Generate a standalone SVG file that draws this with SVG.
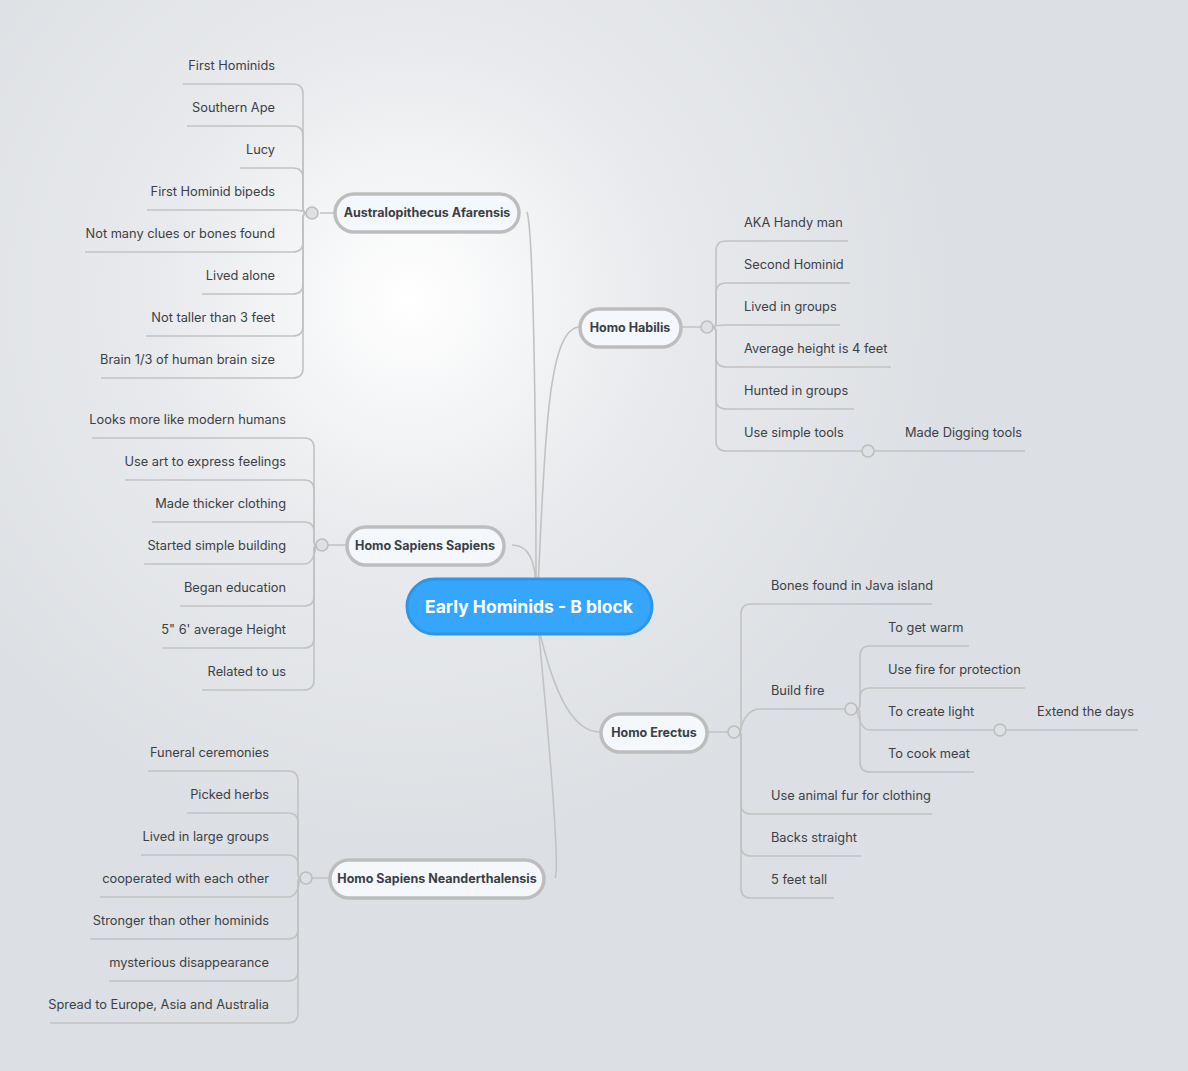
<svg xmlns="http://www.w3.org/2000/svg" width="1188" height="1071" viewBox="0 0 1188 1071">
<defs>
<radialGradient id="bg" cx="410" cy="300" r="560" gradientUnits="userSpaceOnUse">
<stop offset="0" stop-color="#ffffff"/><stop offset="0.45" stop-color="#e8eaed"/><stop offset="1" stop-color="#dcdfe3"/>
</radialGradient>
<style>
.c{fill:none;stroke:#c2c2c2;stroke-width:1.6}
.t{font-family:Inter,"Liberation Sans",sans-serif;font-size:12.8px;fill:#3b3f45}
.r{text-anchor:end}
.n rect{fill:#f4f8fd;stroke:#bdbdbd;stroke-width:3.5}
.n text{font-family:Inter,"Liberation Sans",sans-serif;font-size:12.5px;font-weight:bold;fill:#3b3f45;text-anchor:middle}
.h{fill:#dde0e4;stroke:#bdbdbd;stroke-width:1.6}
</style>
</defs>
<rect width="1188" height="1071" fill="url(#bg)"/>
<g id="connectors">
<path class="c" d="M536,590 C536,400 533,230 527,212"/>
<path class="c" d="M538,590 C545,420 550,330 579,327"/>
<path class="c" d="M536,590 C536,560 528,545 512,545"/>
<path class="c" d="M538,625 C550,750 560,870 555,878"/>
<path class="c" d="M538,625 C555,700 575,732 600,732"/>
<path class="c" d="M320,213 L334,213 M681,327 L701,327 M328,545 L346,545 M312,878 L329,878 M708,732 L728,732"/>
<path class="c" d="M306,213 Q303,213 303,207 L303,94 Q303,84 293,84 L183,84"/>
<path class="c" d="M306,213 Q303,213 303,207 L303,136 Q303,126 293,126 L187,126"/>
<path class="c" d="M306,213 Q303,213 303,207 L303,178 Q303,168 293,168 L240,168"/>
<path class="c" d="M306,213 Q303,210 293,210 L147,210"/>
<path class="c" d="M306,213 Q303,213 303,219 L303,242 Q303,252 293,252 L85,252"/>
<path class="c" d="M306,213 Q303,213 303,219 L303,284 Q303,294 293,294 L202,294"/>
<path class="c" d="M306,213 Q303,213 303,219 L303,326 Q303,336 293,336 L146,336"/>
<path class="c" d="M306,213 Q303,213 303,219 L303,368 Q303,378 293,378 L101,378"/>
<path class="c" d="M713,327 Q716,327 716,321 L716,251 Q716,241 726,241 L848,241"/>
<path class="c" d="M713,327 Q716,327 716,321 L716,293 Q716,283 726,283 L850,283"/>
<path class="c" d="M713,327 Q716,325 726,325 L840,325"/>
<path class="c" d="M713,327 Q716,327 716,333 L716,357 Q716,367 726,367 L891,367"/>
<path class="c" d="M713,327 Q716,327 716,333 L716,399 Q716,409 726,409 L854,409"/>
<path class="c" d="M713,327 Q716,327 716,333 L716,441 Q716,451 726,451 L862,451"/>
<path class="c" d="M874,451 L1025,451"/>
<path class="c" d="M316,545 Q314,545 314,539 L314,448 Q314,438 304,438 L92,438"/>
<path class="c" d="M316,545 Q314,545 314,539 L314,490 Q314,480 304,480 L125,480"/>
<path class="c" d="M316,545 Q314,545 314,539 L314,532 Q314,522 304,522 L152,522"/>
<path class="c" d="M316,545 Q314,564 304,564 L144,564"/>
<path class="c" d="M316,545 Q314,545 314,551 L314,596 Q314,606 304,606 L180,606"/>
<path class="c" d="M316,545 Q314,545 314,551 L314,638 Q314,648 304,648 L162,648"/>
<path class="c" d="M316,545 Q314,545 314,551 L314,680 Q314,690 304,690 L202,690"/>
<path class="c" d="M300,878 Q298,878 298,872 L298,781 Q298,771 288,771 L148,771"/>
<path class="c" d="M300,878 Q298,878 298,872 L298,823 Q298,813 288,813 L187,813"/>
<path class="c" d="M300,878 Q298,878 298,872 L298,865 Q298,855 288,855 L141,855"/>
<path class="c" d="M300,878 Q298,897 288,897 L100,897"/>
<path class="c" d="M300,878 Q298,878 298,884 L298,929 Q298,939 288,939 L90,939"/>
<path class="c" d="M300,878 Q298,878 298,884 L298,971 Q298,981 288,981 L109,981"/>
<path class="c" d="M300,878 Q298,878 298,884 L298,1013 Q298,1023 288,1023 L50,1023"/>
<path class="c" d="M740,732 Q741,732 741,726 L741,614 Q741,604 751,604 L932,604"/>
<path class="c" d="M740,732 Q745,709 760,709 L845,709"/>
<path class="c" d="M740,732 Q741,732 741,738 L741,804 Q741,814 751,814 L932,814"/>
<path class="c" d="M740,732 Q741,732 741,738 L741,846 Q741,856 751,856 L861,856"/>
<path class="c" d="M740,732 Q741,732 741,738 L741,888 Q741,898 751,898 L834,898"/>
<path class="c" d="M857,709 Q860,709 860,703 L860,656 Q860,646 870,646 L969,646"/>
<path class="c" d="M857,709 Q860,709 860,703 L860,698 Q860,688 870,688 L1025,688"/>
<path class="c" d="M857,709 Q860,730 870,730 L994,730"/>
<path class="c" d="M857,709 Q860,709 860,715 L860,762 Q860,772 870,772 L974,772"/>
<path class="c" d="M1006,730 L1138,730"/>
</g>
<circle class="h" cx="312" cy="213" r="6"/>
<circle class="h" cx="707" cy="327" r="6"/>
<circle class="h" cx="868" cy="451" r="6"/>
<circle class="h" cx="322" cy="545" r="6"/>
<circle class="h" cx="306" cy="878" r="6"/>
<circle class="h" cx="734" cy="732" r="6"/>
<circle class="h" cx="851" cy="709" r="6"/>
<circle class="h" cx="1000" cy="730" r="6"/>
<g id="center">
<rect x="407" y="579" width="245" height="55" rx="27.5" fill="#36a6fd" stroke="#2f95e6" stroke-width="3"/>
<text x="529" y="613" font-family="Inter,Liberation Sans,sans-serif" font-size="17.5" font-weight="bold" fill="#fff" text-anchor="middle">Early Hominids - B block</text>
</g>
<g id="australo" class="n"><rect x="335" y="194" width="184" height="38" rx="19"/><text x="427" y="217">Australopithecus Afarensis</text></g>
<g id="habilis" class="n"><rect x="580" y="309" width="101" height="38" rx="19"/><text x="630" y="332">Homo Habilis</text></g>
<g id="sapiens" class="n"><rect x="347" y="527" width="157" height="38" rx="19"/><text x="425" y="550">Homo Sapiens Sapiens</text></g>
<g id="neander" class="n"><rect x="330" y="860" width="214" height="38" rx="19"/><text x="437" y="883">Homo Sapiens Neanderthalensis</text></g>
<g id="erectus" class="n"><rect x="601" y="714" width="106" height="38" rx="19"/><text x="654" y="737">Homo Erectus</text></g>
<g id="leaves">
<text class="t r" x="275" y="70">First Hominids</text>
<text class="t r" x="275" y="112">Southern Ape</text>
<text class="t r" x="275" y="154">Lucy</text>
<text class="t r" x="275" y="196">First Hominid bipeds</text>
<text class="t r" x="275" y="238">Not many clues or bones found</text>
<text class="t r" x="275" y="280">Lived alone</text>
<text class="t r" x="275" y="322">Not taller than 3 feet</text>
<text class="t r" x="275" y="364">Brain 1/3 of human brain size</text>
<text class="t" x="744" y="227">AKA Handy man</text>
<text class="t" x="744" y="269">Second Hominid</text>
<text class="t" x="744" y="311">Lived in groups</text>
<text class="t" x="744" y="353">Average height is 4 feet</text>
<text class="t" x="744" y="395">Hunted in groups</text>
<text class="t" x="744" y="437">Use simple tools</text>
<text class="t" x="905" y="437">Made Digging tools</text>
<text class="t r" x="286" y="424">Looks more like modern humans</text>
<text class="t r" x="286" y="466">Use art to express feelings</text>
<text class="t r" x="286" y="508">Made thicker clothing</text>
<text class="t r" x="286" y="550">Started simple building</text>
<text class="t r" x="286" y="592">Began education</text>
<text class="t r" x="286" y="634">5" 6' average Height</text>
<text class="t r" x="286" y="676">Related to us</text>
<text class="t r" x="269" y="757">Funeral ceremonies</text>
<text class="t r" x="269" y="799">Picked herbs</text>
<text class="t r" x="269" y="841">Lived in large groups</text>
<text class="t r" x="269" y="883">cooperated with each other</text>
<text class="t r" x="269" y="925">Stronger than other hominids</text>
<text class="t r" x="269" y="967">mysterious disappearance</text>
<text class="t r" x="269" y="1009">Spread to Europe, Asia and Australia</text>
<text class="t" x="771" y="590">Bones found in Java island</text>
<text class="t" x="771" y="695">Build fire</text>
<text class="t" x="771" y="800">Use animal fur for clothing</text>
<text class="t" x="771" y="842">Backs straight</text>
<text class="t" x="771" y="884">5 feet tall</text>
<text class="t" x="888" y="632">To get warm</text>
<text class="t" x="888" y="674">Use fire for protection</text>
<text class="t" x="888" y="716">To create light</text>
<text class="t" x="888" y="758">To cook meat</text>
<text class="t" x="1037" y="716">Extend the days</text>
</g>
</svg>
